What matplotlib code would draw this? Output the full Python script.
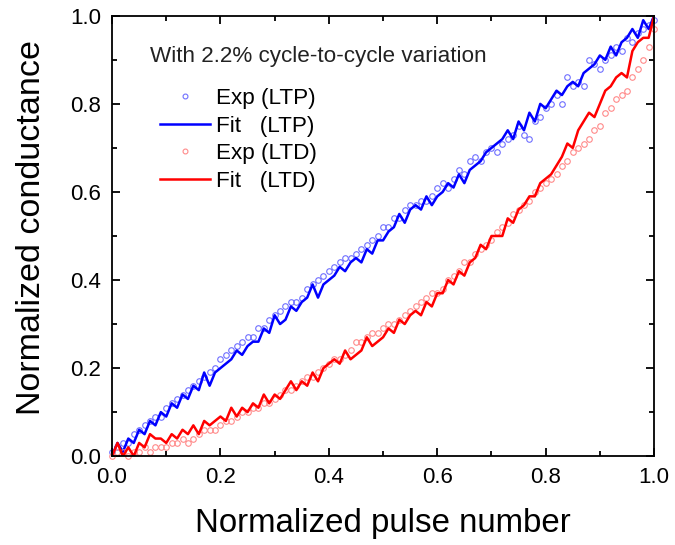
import numpy as np
import matplotlib
matplotlib.use('Agg')
import matplotlib.pyplot as plt
from matplotlib.lines import Line2D
from matplotlib.ticker import MultipleLocator

plt.rcParams['font.family'] = ['Liberation Sans', 'DejaVu Sans']

# normalized pulse number, 101 pulses
pulse = np.arange(101) / 100.0

# LTP (potentiation) values
ltp_fit = [0.00, 0.03, 0.01, 0.04, 0.03, 0.06, 0.05, 0.08, 0.07, 0.10,
           0.09, 0.12, 0.11, 0.14, 0.13, 0.16, 0.15, 0.19, 0.16, 0.19,
           0.20, 0.21, 0.22, 0.24, 0.23, 0.25, 0.26, 0.26, 0.29, 0.28,
           0.32, 0.30, 0.31, 0.34, 0.33, 0.35, 0.36, 0.39, 0.36, 0.39,
           0.40, 0.41, 0.43, 0.42, 0.44, 0.45, 0.44, 0.47, 0.46, 0.49,
           0.49, 0.51, 0.52, 0.55, 0.53, 0.56, 0.57, 0.56, 0.59, 0.57,
           0.59, 0.60, 0.62, 0.61, 0.64, 0.62, 0.65, 0.66, 0.67, 0.69,
           0.70, 0.71, 0.72, 0.74, 0.72, 0.76, 0.74, 0.78, 0.76, 0.80,
           0.79, 0.81, 0.83, 0.82, 0.84, 0.85, 0.84, 0.87, 0.88, 0.89,
           0.91, 0.90, 0.93, 0.91, 0.94, 0.95, 0.97, 0.95, 0.99, 0.97,
           1.00]
ltp_exp = [0.01, 0.02, 0.03, 0.03, 0.05, 0.06, 0.07, 0.08, 0.09, 0.09,
           0.11, 0.12, 0.13, 0.14, 0.15, 0.16, 0.17, 0.18, 0.19, 0.20,
           0.22, 0.23, 0.24, 0.25, 0.26, 0.27, 0.27, 0.29, 0.29, 0.31,
           0.32, 0.33, 0.34, 0.35, 0.35, 0.36, 0.38, 0.39, 0.40, 0.41,
           0.42, 0.43, 0.44, 0.45, 0.45, 0.46, 0.47, 0.48, 0.49, 0.50,
           0.52, 0.52, 0.54, 0.54, 0.56, 0.57, 0.57, 0.58, 0.58, 0.59,
           0.61, 0.62, 0.61, 0.63, 0.65, 0.64, 0.67, 0.68, 0.67, 0.69,
           0.70, 0.69, 0.71, 0.72, 0.73, 0.75, 0.73, 0.72, 0.76, 0.77,
           0.79, 0.80, 0.82, 0.80, 0.86, 0.84, 0.85, 0.84, 0.90, 0.89,
           0.88, 0.90, 0.91, 0.93, 0.92, 0.95, 0.94, 0.96, 0.97, 0.98,
           0.99]

# LTD (depression) values
ltd_fit = [0.00, 0.03, 0.00, 0.02, 0.00, 0.03, 0.02, 0.05, 0.04, 0.04,
           0.03, 0.05, 0.04, 0.06, 0.05, 0.07, 0.05, 0.08, 0.07, 0.08,
           0.09, 0.08, 0.11, 0.09, 0.11, 0.10, 0.12, 0.11, 0.14, 0.12,
           0.14, 0.13, 0.15, 0.17, 0.15, 0.17, 0.16, 0.19, 0.17, 0.20,
           0.21, 0.22, 0.21, 0.24, 0.22, 0.23, 0.24, 0.27, 0.25, 0.26,
           0.27, 0.29, 0.28, 0.31, 0.30, 0.32, 0.33, 0.32, 0.35, 0.34,
           0.37, 0.37, 0.40, 0.39, 0.42, 0.41, 0.44, 0.45, 0.48, 0.47,
           0.50, 0.50, 0.50, 0.54, 0.53, 0.56, 0.57, 0.59, 0.59, 0.62,
           0.63, 0.64, 0.66, 0.68, 0.71, 0.70, 0.74, 0.76, 0.78, 0.77,
           0.80, 0.83, 0.84, 0.86, 0.87, 0.86, 0.92, 0.94, 0.95, 0.95,
           1.00]
ltd_exp = [0.00, 0.01, 0.01, 0.00, 0.01, 0.01, 0.02, 0.01, 0.02, 0.02,
           0.02, 0.03, 0.03, 0.04, 0.03, 0.04, 0.05, 0.06, 0.06, 0.06,
           0.07, 0.08, 0.08, 0.09, 0.10, 0.10, 0.11, 0.11, 0.12, 0.12,
           0.13, 0.14, 0.15, 0.15, 0.16, 0.17, 0.18, 0.18, 0.19, 0.20,
           0.21, 0.22, 0.22, 0.23, 0.24, 0.26, 0.26, 0.27, 0.28, 0.28,
           0.29, 0.30, 0.30, 0.31, 0.32, 0.33, 0.34, 0.35, 0.36, 0.37,
           0.37, 0.38, 0.40, 0.41, 0.42, 0.44, 0.44, 0.46, 0.47, 0.48,
           0.49, 0.51, 0.52, 0.53, 0.55, 0.56, 0.57, 0.58, 0.60, 0.61,
           0.62, 0.63, 0.64, 0.66, 0.67, 0.69, 0.70, 0.71, 0.72, 0.74,
           0.75, 0.78, 0.79, 0.81, 0.82, 0.83, 0.86, 0.88, 0.90, 0.93,
           0.97]

blue = '#0000ff'
red = '#ff0000'
blue_pt = '#6f6fff'
red_pt = '#ff8a8a'

fig = plt.figure(figsize=(6.75, 5.45), dpi=100)
ax = fig.add_axes([0.166, 0.163, 0.803, 0.808])

ax.plot(pulse, ltp_exp, 'o', ms=4, mfc='none', mec=blue_pt, mew=0.8, clip_on=False)
ax.plot(pulse, ltp_fit, '-', color=blue, lw=1.8)
ax.plot(pulse, ltd_exp, 'o', ms=4, mfc='none', mec=red_pt, mew=0.8, clip_on=False)
ax.plot(pulse, ltd_fit, '-', color=red, lw=1.8)

ax.set_xlim(0, 1)
ax.set_ylim(0, 1)
ax.xaxis.set_major_locator(MultipleLocator(0.2))
ax.xaxis.set_minor_locator(MultipleLocator(0.1))
ax.yaxis.set_major_locator(MultipleLocator(0.2))
ax.yaxis.set_minor_locator(MultipleLocator(0.1))
ax.tick_params(which='both', direction='in', top=True, right=True, width=1.3)
ax.tick_params(which='major', length=6, labelsize=16)
ax.tick_params(which='minor', length=3.5)
ax.tick_params(axis='x', which='major', pad=8)
ax.tick_params(axis='y', which='major', pad=8)
for s in ax.spines.values():
    s.set_linewidth(1.3)

ax.set_xlabel('Normalized pulse number', fontsize=23.8, labelpad=14)
ax.set_ylabel('Normalized conductance', fontsize=24.5)
ax.yaxis.set_label_coords(-0.12, 0.52)

ax.text(0.07, 0.907, 'With 2.2% cycle-to-cycle variation', transform=ax.transAxes,
        fontsize=16.2, color='#222222', va='center')

handles = [
    Line2D([], [], ls='none', marker='o', ms=3.5, mfc='none', mec=blue_pt, mew=0.8),
    Line2D([], [], color=blue, lw=1.8),
    Line2D([], [], ls='none', marker='o', ms=3.5, mfc='none', mec=red_pt, mew=0.8),
    Line2D([], [], color=red, lw=1.8),
]
labels = ['Exp (LTP)', 'Fit   (LTP)', 'Exp (LTD)', 'Fit   (LTD)']
ax.legend(handles, labels, loc='upper left', bbox_to_anchor=(0.0886, 0.836),
          frameon=False, fontsize=16.2, handlelength=2.2, handletextpad=0.3,
          labelspacing=0.29, borderpad=0, borderaxespad=0)

plt.savefig('out.png', dpi=100)
